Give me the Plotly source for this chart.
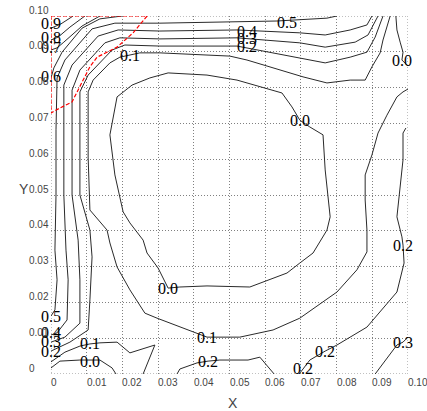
import plotly.graph_objects as go

# ---- contour lines (x, y in data units) ----
c09_x = [0.0062, 0.0028, 0.0]
c09_y = [0.1000, 0.0978, 0.0966]

c08_x = [0.0095, 0.0053, 0.0020, 0.0]
c08_y = [0.1000, 0.0969, 0.0941, 0.0933]

c07_x = [0.0137, 0.0087, 0.0036, 0.0017, 0.0]
c07_y = [0.1000, 0.0972, 0.0927, 0.0911, 0.0905]

c06_x = [0.0199, 0.0137, 0.0087, 0.0031, 0.0008, 0.0]
c06_y = [0.1000, 0.0992, 0.0966, 0.0899, 0.0855, 0.0827]

c05_x = [0.0801, 0.0773, 0.0633, 0.0305, 0.0179, 0.0115, 0.0039, 0.0017, 0.0014,
         0.0014, 0.0011, 0.0017, 0.0011, 0.0]
c05_y = [0.1000, 0.0994, 0.0986, 0.0980, 0.0980, 0.0964, 0.0877, 0.0827, 0.0682,
         0.0500, 0.0346, 0.0263, 0.0179, 0.0162]

c04_x = [0.0899, 0.0885, 0.0838, 0.0768, 0.0697, 0.0521, 0.0305, 0.0188, 0.0132,
         0.0059, 0.0036, 0.0036, 0.0036, 0.0042, 0.0048, 0.0045, 0.0017, 0.0]
c04_y = [0.1000, 0.0975, 0.0961, 0.0947, 0.0953, 0.0961, 0.0958, 0.0961, 0.0944,
         0.0863, 0.0807, 0.0682, 0.0500, 0.0346, 0.0263, 0.0151, 0.0115, 0.0109]

c03_x = [0.0916, 0.0888, 0.0852, 0.0768, 0.0697, 0.0521, 0.0305, 0.0193, 0.0151,
         0.0081, 0.0059, 0.0059, 0.0059, 0.0076, 0.0081, 0.0081, 0.0039, 0.0]
c03_y = [0.1000, 0.0947, 0.0927, 0.0913, 0.0925, 0.0939, 0.0936, 0.0939, 0.0925,
         0.0849, 0.0793, 0.0682, 0.0500, 0.0374, 0.0263, 0.0142, 0.0103, 0.0089]

c02_x = [0.0930, 0.0908, 0.0885, 0.0838, 0.0768, 0.0697, 0.0521, 0.0305, 0.0207,
         0.0171, 0.0104, 0.0081, 0.0081, 0.0081, 0.0109, 0.0115, 0.0109, 0.0104,
         0.0053, 0.0]
c02_y = [0.1000, 0.0941, 0.0899, 0.0885, 0.0869, 0.0883, 0.0916, 0.0916, 0.0919,
         0.0905, 0.0835, 0.0788, 0.0682, 0.0500, 0.0402, 0.0327, 0.0207, 0.0123,
         0.0089, 0.0064]

c01_x = [0.0950, 0.0930, 0.0922, 0.0899, 0.0880, 0.0838, 0.0773, 0.0706, 0.0549,
         0.0501, 0.0305, 0.0249, 0.0193, 0.0165, 0.0118, 0.0104, 0.0104, 0.0104,
         0.0109, 0.0157, 0.0165, 0.0185, 0.0221, 0.0263, 0.0297, 0.0409, 0.0437,
         0.0529, 0.0622, 0.0697, 0.0801, 0.0857, 0.0885, 0.0885, 0.0880, 0.0880,
         0.0899, 0.0916, 0.0941, 0.0969, 0.0986, 0.1000]
c01_y = [0.1000, 0.0933, 0.0897, 0.0858, 0.0821, 0.0821, 0.0813, 0.0830, 0.0877,
         0.0888, 0.0897, 0.0897, 0.0885, 0.0869, 0.0821, 0.0788, 0.0682, 0.0606,
         0.0458, 0.0402, 0.0366, 0.0299, 0.0235, 0.0170, 0.0156, 0.0115, 0.0103,
         0.0103, 0.0123, 0.0156, 0.0229, 0.0291, 0.0341, 0.0402, 0.0486, 0.0556,
         0.0612, 0.0673, 0.0723, 0.0774, 0.0788, 0.0796]

c01b_x = [0.0, 0.0039, 0.0081, 0.0109, 0.0137, 0.0185, 0.0221, 0.0291, 0.0258]
c01b_y = [0.0034, 0.0061, 0.0078, 0.0084, 0.0087, 0.0089, 0.0059, 0.0081, 0.0]

c00a_x = [0.0, 0.0025, 0.0081, 0.0137, 0.0171, 0.0182]
c00a_y = [0.0017, 0.0036, 0.0039, 0.0039, 0.0017, 0.0]

c00b_x = [0.0328, 0.0437, 0.0521, 0.0647, 0.0675, 0.0697, 0.0725, 0.0762, 0.0768,
          0.0782, 0.0773, 0.0734, 0.0697, 0.0661, 0.0557, 0.0437, 0.0361, 0.0328,
          0.0300, 0.0269, 0.0258, 0.0221, 0.0202, 0.0179, 0.0165, 0.0185, 0.0227,
          0.0277, 0.0328]
c00b_y = [0.0841, 0.0835, 0.0821, 0.0785, 0.0746, 0.0709, 0.0690, 0.0668, 0.0570,
          0.0439, 0.0402, 0.0338, 0.0310, 0.0282, 0.0243, 0.0246, 0.0243, 0.0240,
          0.0296, 0.0338, 0.0374, 0.0422, 0.0453, 0.0556, 0.0668, 0.0774, 0.0807,
          0.0827, 0.0841]

c00c_x = [0.0966, 0.0969, 0.0978, 0.0986, 0.0983, 0.1000]
c00c_y = [0.1000, 0.0961, 0.0927, 0.0899, 0.0877, 0.0860]

c02b_x = [0.0994, 0.0986, 0.0986, 0.0969, 0.0983, 0.0986, 0.0989, 0.0969, 0.0885,
          0.0801, 0.0768, 0.0725, 0.0706, 0.0695]
c02b_y = [0.0687, 0.0673, 0.0598, 0.0439, 0.0383, 0.0360, 0.0310, 0.0229, 0.0131,
          0.0081, 0.0064, 0.0039, 0.0014, 0.0]

c02c_x = [0.0353, 0.0361, 0.0409, 0.0440, 0.0473, 0.0552, 0.0585, 0.0622, 0.0625]
c02c_y = [0.0, 0.0014, 0.0031, 0.0036, 0.0039, 0.0039, 0.0047, 0.0006, 0.0]

c03b_x = [0.0908, 0.0969, 0.0986, 0.1000]
c03b_y = [0.0, 0.0081, 0.0089, 0.0103]

# red dashed region
region_x = [0.0, 0.0269, 0.0230, 0.0185, 0.0129, 0.0109, 0.0090, 0.0073, 0.0059,
            0.0025, 0.0003, 0.0, 0.0]
region_y = [0.1, 0.1, 0.0953, 0.0913, 0.0885, 0.0858, 0.0821, 0.0785, 0.0760,
            0.0743, 0.0729, 0.0729, 0.1]

# contour labels
label_text = ["0.9", "0.8", "0.7", "0.6", "0.5", "0.4", "0.3", "0.2", "0.1",
              "0.0", "0.0", "0.0", "0.2", "0.2", "0.2", "0.2", "0.3",
              "0.5", "0.4", "0.3", "0.2", "0.1", "0.0", "0.1"]
label_x = [0.0, 0.0, 0.0, 0.0, 0.0661, 0.0549, 0.0549, 0.0549, 0.0221,
           0.0983, 0.0697, 0.0328, 0.0986, 0.0768, 0.0706, 0.0440, 0.0986,
           0.0, 0.0, 0.0, 0.0, 0.0109, 0.0109, 0.0437]
label_y = [0.0980, 0.0941, 0.0911, 0.0830, 0.0983, 0.0958, 0.0936, 0.0914, 0.0891,
           0.0877, 0.0709, 0.0240, 0.0360, 0.0064, 0.0014, 0.0036, 0.0089,
           0.0162, 0.0115, 0.0092, 0.0064, 0.0084, 0.0036, 0.0103]

# ticks
tick_vals = [0.0, 0.01, 0.02, 0.03, 0.04, 0.05, 0.06, 0.07, 0.08, 0.09, 0.10]
tick_text = ["0", "0.01", "0.02", "0.03", "0.04", "0.05", "0.06", "0.07", "0.08", "0.09", "0.10"]

lines = [(c09_x, c09_y), (c08_x, c08_y), (c07_x, c07_y), (c06_x, c06_y),
         (c05_x, c05_y), (c04_x, c04_y), (c03_x, c03_y), (c02_x, c02_y),
         (c01_x, c01_y), (c01b_x, c01b_y), (c00a_x, c00a_y), (c00b_x, c00b_y),
         (c00c_x, c00c_y), (c02b_x, c02b_y), (c02c_x, c02c_y), (c03b_x, c03b_y)]

fig = go.Figure()
for lx, ly in lines:
    fig.add_trace(go.Scatter(x=lx, y=ly, mode="lines",
                             line=dict(color="#2a2a2a", width=1),
                             hoverinfo="skip", showlegend=False))

fig.add_trace(go.Scatter(x=region_x, y=region_y, mode="lines",
                         line=dict(color="#ff0000", width=1.2, dash="4px,2px"),
                         hoverinfo="skip", showlegend=False))

ann = []
for t, x, y in zip(label_text, label_x, label_y):
    ann.append(dict(x=x, y=y, xref="x", yref="y", text=t, showarrow=False,
                    font=dict(family="Liberation Serif", size=16, color="#000"),
                    xanchor="center", yanchor="middle"))
for v, t in zip(tick_vals, tick_text):
    ann.append(dict(x=v, y=0, xref="x", yref="paper", text=t, showarrow=False,
                    font=dict(family="Liberation Sans", size=10, color="#444"),
                    xanchor="left", yanchor="top", xshift=-2, yshift=-1))
    ann.append(dict(x=-0.068, y=v, xref="paper", yref="y", text=t, showarrow=False,
                    font=dict(family="Liberation Sans", size=10, color="#444"),
                    xanchor="left", yanchor="middle", yshift=6))
ann.append(dict(x=0.5, y=0, xref="paper", yref="paper", text="X", showarrow=False,
                font=dict(family="Liberation Sans", size=14, color="#444"),
                xanchor="center", yanchor="top", xshift=3, yshift=-19))
ann.append(dict(x=-0.068, y=0.5, xref="paper", yref="paper", text="Y", showarrow=False,
                font=dict(family="Liberation Sans", size=14, color="#444"),
                xanchor="center", yanchor="middle", xshift=-3, yshift=6))

axis_common = dict(range=[0, 0.1], dtick=0.01, tick0=0, showgrid=True,
                   gridcolor="#808080", griddash="1px,2px", gridwidth=1,
                   zeroline=False, showline=False, showticklabels=False, ticks="")

fig.update_layout(
    width=427, height=411,
    margin=dict(l=51, r=19, t=16, b=37),
    paper_bgcolor="white", plot_bgcolor="white",
    xaxis=axis_common, yaxis=axis_common,
    annotations=ann,
    shapes=[dict(type="rect", xref="x", yref="y", x0=0, y0=0, x1=0.1, y1=0.1,
                 line=dict(color="#808080", width=1, dash="1px,2px"), layer="below")],
)

fig.write_html("out.html", include_plotlyjs=True,
               config={"displayModeBar": False},
               post_script="document.body.style.margin='0';")
